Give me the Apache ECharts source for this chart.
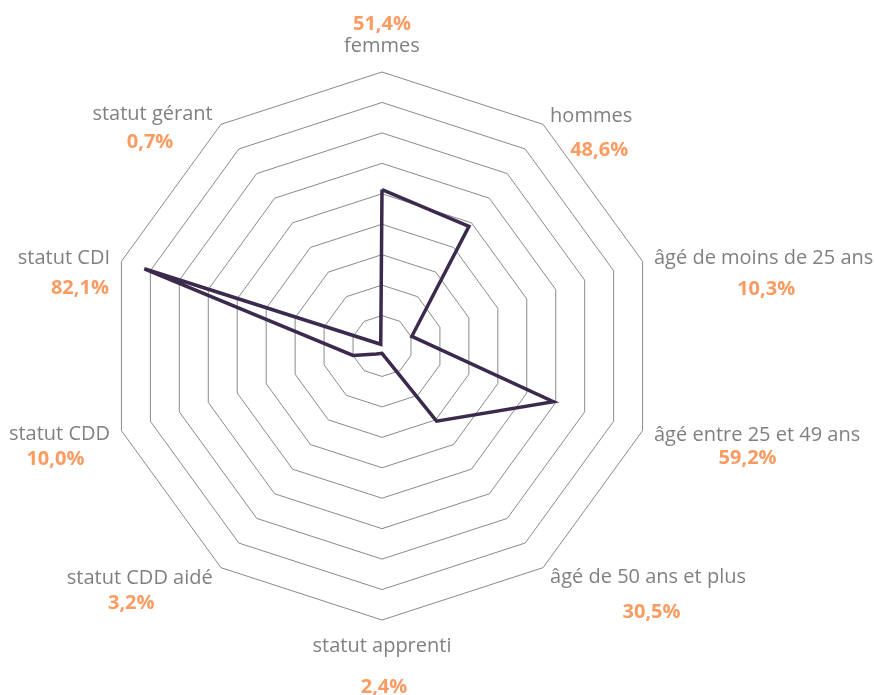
<!DOCTYPE html>
<html><head><meta charset="utf-8">
<script src="https://cdn.jsdelivr.net/npm/echarts@6/dist/echarts.min.js"></script>
<style>html,body{margin:0;padding:0;background:#fff}#c{width:875px;height:695px}</style>
</head><body><div id="c"></div>
<script>
// Categories in clockwise order starting from the top
const categories = ['femmes', 'hommes', 'âgé de moins de 25 ans', 'âgé entre 25 et 49 ans', 'âgé de 50 ans et plus',
  'statut apprenti', 'statut CDD aidé', 'statut CDD', 'statut CDI', 'statut gérant'];
const values = [51.4, 48.6, 10.3, 59.2, 30.5, 2.4, 3.2, 10.0, 82.1, 0.7];
const axisMax = 90;
const splitCount = 9;

// Label layout per category (clockwise order): name gap, top padding, value line height,
// value horizontal nudge (left / right padding)
const labelLayout = [
  { gap: 14, pt: 0,  lv: 20, pl: 0,  pr: 0 },
  { gap: 12, pt: 47, lv: 44, pl: 16, pr: 0 },
  { gap: 12, pt: 39, lv: 38, pl: 5,  pr: 0 },
  { gap: 12, pt: 23, lv: 22, pl: 0,  pr: 19 },
  { gap: 12, pt: 46, lv: 46, pl: 7,  pr: 0 },
  { gap: 14, pt: 0,  lv: 58, pl: 4,  pr: 0 },
  { gap: 14, pt: 25, lv: 26, pl: 0,  pr: 17 },
  { gap: 12, pt: 25, lv: 26, pl: 0,  pr: 8 },
  { gap: 12, pt: 37, lv: 36, pl: 32, pr: 0 },
  { gap: 14, pt: 35, lv: 32, pl: 0,  pr: 5 }
];

const fmt = v => v.toFixed(1).replace('.', ',') + '%';
// ECharts places radar indicators counter-clockwise; reorder so they run clockwise
const order = [0, 9, 8, 7, 6, 5, 4, 3, 2, 1];

const rich = { n: { fontFamily: 'Open Sans', fontSize: 20, lineHeight: 24, color: '#808080' } };
categories.forEach((c, i) => {
  const L = labelLayout[i];
  rich['v' + i] = { fontFamily: 'Open Sans', fontSize: 20, fontWeight: 'bold', color: '#FA9B62',
    lineHeight: L.lv, align: 'center', padding: [0, L.pr, 0, L.pl] };
});

const indicators = order.map(i => ({
  name: categories[i], min: 0, max: axisMax,
  nameGap: labelLayout[i].gap,
  nameTextStyle: { padding: [labelLayout[i].pt, 0, 0, 0] }
}));

const chart = echarts.init(document.getElementById('c'), null, { renderer: 'canvas' });
chart.setOption({
  animation: false,
  backgroundColor: '#ffffff',
  radar: {
    center: [382, 346],
    radius: 274,
    startAngle: 90,
    splitNumber: splitCount,
    shape: 'polygon',
    indicator: indicators,
    axisName: {
      fontFamily: 'Open Sans',
      fontSize: 20,
      color: '#808080',
      rich: rich,
      formatter: function (name) {
        const i = categories.indexOf(name);
        const v = '{v' + i + '|' + fmt(values[i]) + '}';
        const n = '{n|' + name + '}';
        return i === 0 ? v + '\n' + n : n + '\n' + v;
      }
    },
    axisLine: { show: false },
    axisTick: { show: false },
    axisLabel: { show: false },
    splitArea: { show: false },
    splitLine: { lineStyle: { color: '#8a8a8a', width: 1 } }
  },
  series: [{
    type: 'radar',
    symbol: 'none',
    silent: true,
    lineStyle: { color: '#3B2A4E', width: 3.5, join: 'miter' },
    data: [{ value: order.map(i => values[i]) }]
  }]
});
</script>
</body></html>
